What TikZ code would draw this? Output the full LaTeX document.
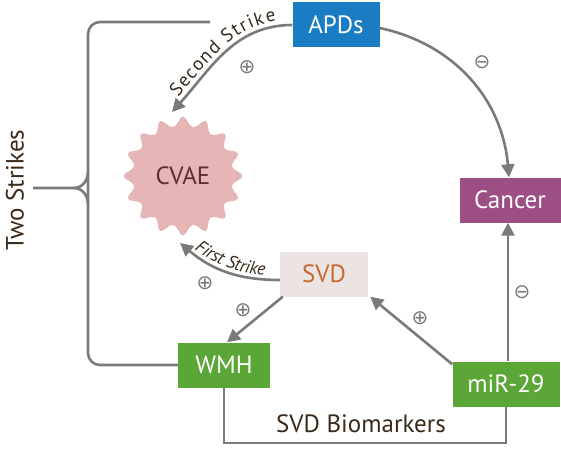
\documentclass[tikz,border=0pt]{standalone}
\usepackage{fontspec}
\setmainfont{PT Sans}
\newfontfamily\signfont{DejaVu Sans}
\usetikzlibrary{shapes.geometric}
\usetikzlibrary{positioning}
\usetikzlibrary{arrows.meta}
\usetikzlibrary{decorations.text}

\definecolor{apdblue}{HTML}{1A7DC4}
\definecolor{cancerpurple}{HTML}{9C4E85}
\definecolor{svdgray}{HTML}{ECE4E3}
\definecolor{svdorange}{HTML}{C7692F}
\definecolor{wmhgreen}{HTML}{5AA636}
\definecolor{cvaepink}{HTML}{E6B5B5}
\definecolor{cvaetext}{HTML}{5A3030}
\definecolor{linegray}{HTML}{7A7A7A}
\definecolor{labeltext}{HTML}{3B2A1A}

\begin{document}
\begin{tikzpicture}[x=1pt,y=1pt,
	box/.style={rectangle,minimum height=45,inner sep=0pt,text=white,font=\fontsize{25}{25}\selectfont},
	link/.style={draw=linegray,line width=2.6pt,-{Triangle[length=13pt,width=13pt]}},
	brace/.style={draw=linegray,line width=2.6pt},
	sign/.style={text=linegray,font=\signfont\fontsize{20}{20}\selectfont},
	bigtext/.style={text=labeltext,font=\fontsize{25}{25}\selectfont}]
	\useasboundingbox (0,0) rectangle (561,448);
	% boxes
	\node [box,fill=apdblue,minimum width=87] (apds) at (336,423) {APDs};
	\node [box,fill=cancerpurple,minimum width=101] (cancer) at (510,248) {Cancer};
	\node [box,fill=svdgray,minimum width=88,text=svdorange] (svd) at (324,174) {SVD};
	\node [box,fill=wmhgreen,minimum width=92] (wmh) at (224,83) {WMH};
	\node [box,fill=wmhgreen,minimum width=107] (mir) at (506,64) {miR-29};
	\node [star,star points=16,star point ratio=1.3,minimum size=124,inner sep=0pt,
		fill=cvaepink,rounded corners=5pt,text=cvaetext,font=\fontsize{25}{25}\selectfont] (cvae) at (183,272) {CVAE};
	\coordinate (cvaetop) at ([shift={(-11,64)}]cvae.center);
	\coordinate (cvaeside) at ([shift={(-3,-67)}]cvae.center);
	% two strikes bracket
	\node [bigtext,rotate=90] (twostrikes) at (15,258) {Two Strikes};
	\coordinate (bracetop) at (210,426);
	\coordinate (bracetip) at (33,260);
	\draw [brace,rounded corners=12pt] (bracetop) -| (88,260) |- (wmh.west);
	\draw [brace] (88,276) to[out=-90,in=0] (74,260) -- (bracetip);
	\draw [brace] (88,244) to[out=90,in=0] (74,260);
	% biomarkers line
	\draw [brace] (wmh.south) -- (wmh.south |- 0,5) -| (mir.south);
	\node [bigtext] (biomarkers) at (361,24) {SVD Biomarkers};
	% arrows
	\draw [link] (apds.west) to[out=180,in=48] (cvaetop);
	\path [decorate,decoration={text along path,text align=center,raise=5pt,
		text={|\fontsize{19}{19}\selectfont\color{labeltext}|{S\kern1.2pt}{e\kern1.2pt}{c\kern1.2pt}{o\kern1.2pt}{n\kern1.2pt}{d\kern1.2pt} {S\kern1.2pt}{t\kern1.2pt}{r\kern1.2pt}{i\kern1.2pt}{k\kern1.2pt}e}}]
		(cvaetop) to[out=48,in=180] (apds.west);
	\draw [link] ([yshift=-3]apds.east) to[out=-12,in=95] ([xshift=-1]cancer.north);
	\draw [link] ([yshift=-6]svd.west) to[out=180,in=-40] (cvaeside);
	\path [decorate,decoration={text along path,text align=center,raise=4pt,
		text={|\itshape\fontsize{18}{18}\selectfont\color{labeltext}|First Strike}}]
		(cvaeside) to[out=-40,in=180] ([yshift=-6]svd.west);
	\draw [link] ([xshift=3]svd.south west) -- ([xshift=3]wmh.north);
	\draw [link] ([yshift=-3]mir.north west) -- ([xshift=2]svd.south east);
	\draw [link] ([xshift=2]mir.north) -- ([xshift=2]mir.north |- cancer.south);
	% signs
	\node [sign] (s1) at (247,381) {⊕};
	\node [sign] (s2) at (482,386) {⊖};
	\node [sign] (s3) at (205,165) {⊕};
	\node [sign] (s4) at (243,138) {⊕};
	\node [sign] (s5) at (420,130) {⊕};
	\node [sign] (s6) at (522,156) {⊖};
\end{tikzpicture}
\end{document}
